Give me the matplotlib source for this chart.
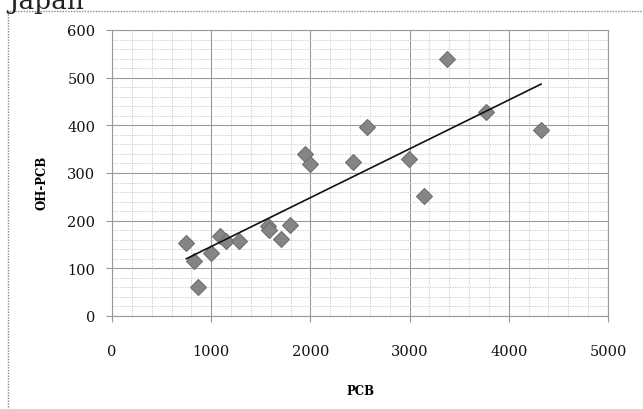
# plot.py
# Scatter of OH-PCB against PCB (Japan), with a linear trend line.

import numpy as np
import matplotlib
matplotlib.use("Agg")
import matplotlib.pyplot as plt
from matplotlib.patches import Rectangle
from matplotlib.ticker import MultipleLocator

# values
pcb = [750, 830, 865, 1000, 1085, 1150, 1280, 1570, 1580, 1705,
       1790, 1945, 1995, 2430, 2570, 2990, 3145, 3380, 3775, 4325]
oh_pcb = [154, 115, 60, 133, 168, 158, 157, 188, 180, 162,
          190, 340, 318, 323, 396, 330, 252, 539, 427, 391]
x_ticks = [0, 1000, 2000, 3000, 4000, 5000]
y_ticks = [0, 100, 200, 300, 400, 500, 600]

plt.rcParams["font.family"] = ["DejaVu Serif"]

fig = plt.figure(figsize=(6.43, 4.10), dpi=100)
ax = fig.add_axes([112 / 643, 1 - 317 / 410, 496 / 643, 286 / 410])

# outer chart frame (only left/top visible, the rest is cropped)
fig.patches.append(Rectangle((8 / 643, -0.2), 1.2, 1 - 12 / 410 + 0.2,
                             transform=fig.transFigure, fill=False,
                             edgecolor="#8a8a8a", linewidth=1.0,
                             linestyle=(0, (1, 1))))
fig.text(8 / 643, 1 - 9 / 410, "Japan", fontsize=19, va="baseline",
         ha="left", color="#222222")

ax.set_xlim(0, 5000)
ax.set_ylim(0, 600)
ax.set_xticks(x_ticks)
ax.set_yticks(y_ticks)
ax.xaxis.set_minor_locator(MultipleLocator(200))
ax.yaxis.set_minor_locator(MultipleLocator(20))
ax.grid(which="major", color="#9a9a9a", linewidth=0.8)
ax.grid(which="minor", color="#c4c4c4", linewidth=0.6, linestyle=(0, (1.5, 1.5)))
ax.set_axisbelow(True)

for s in ax.spines.values():
    s.set_color("#999999")
    s.set_linewidth(0.8)

ax.tick_params(which="major", length=4, color="#999999", labelsize=10.5,
               labelcolor="#111111")
ax.tick_params(axis="y", pad=8)
ax.tick_params(axis="x", pad=16)
ax.tick_params(which="minor", length=0)

ax.plot(pcb, oh_pcb, linestyle="none", marker="D", markersize=8.5,
        markerfacecolor="#858585", markeredgecolor="#707070",
        markeredgewidth=0.8, zorder=3)

# least-squares trend line over the data range
k, b = np.polyfit(pcb, oh_pcb, 1)
xs = np.array([min(pcb), max(pcb)])
ax.plot(xs, k * xs + b, color="#111111", linewidth=1.2, zorder=4)

ax.set_xlabel("PCB", fontsize=8.5, fontweight="bold")
ax.set_ylabel("OH-PCB", fontsize=8.5, fontweight="bold")
ax.xaxis.set_label_coords(0.5, -0.262)
ax.yaxis.set_label_coords(-0.142, 0.47)
ax.xaxis.label.set_va("center")
ax.yaxis.label.set_va("center")

fig.savefig("out.png", dpi=100)
